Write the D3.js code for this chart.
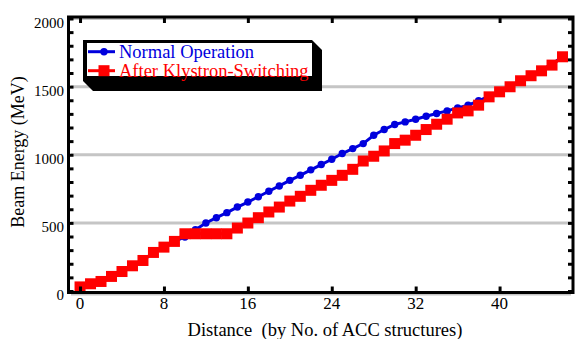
<!DOCTYPE html>
<html>
<head>
<meta charset="utf-8">
<script src="https://cdn.jsdelivr.net/npm/d3@7"></script>
<style>
  html, body { margin: 0; padding: 0; background: #fff; }
  svg { display: block; }
</style>
</head>
<body>
<svg id="chart" width="575" height="339"></svg>
<script>
// ---- data ----
const distance = d3.range(0, 47);
const normalOperation = [30, 53, 70, 107, 143, 185, 224, 283, 322, 364, 396, 450, 499, 538, 575, 616, 653, 692, 732, 771, 812, 849, 889, 928, 967, 1009, 1045, 1082, 1143, 1185, 1222, 1241, 1261, 1283, 1303, 1322, 1344, 1364, 1396, 1430, 1466, 1503, 1547, 1584, 1622, 1665, 1722];
const afterSwitching = [30, 53, 70, 107, 143, 185, 224, 283, 322, 364, 420, 420, 420, 420, 420, 462, 499, 538, 580, 616, 660, 695, 739, 776, 812, 849, 893, 954, 989, 1028, 1082, 1107, 1143, 1185, 1224, 1261, 1307, 1322, 1364, 1425, 1462, 1499, 1543, 1580, 1616, 1658, 1719];
const xTicks = [0, 8, 16, 24, 32, 40];
const yTicks = [0, 500, 1000, 1500, 2000];
const seriesNames = ["Normal Operation", "After Klystron-Switching"];
const seriesColors = ["#0000dd", "#ff0000"];

// ---- layout ----
const svg = d3.select("#chart");
const FONT = "'Liberation Serif'";
const pL = 68.5, pR = 573, pT = 17, pB = 292.5;
const x = d3.scaleLinear().domain([-1.1, 47]).range([pL, pR]);
const y = d3.scaleLinear().domain([0, 2000]).range([291, 18.5]);

// gridlines
svg.append("g").selectAll("line").data(yTicks).join("line")
  .attr("x1", pL + 3).attr("x2", pR - 2)
  .attr("y1", d => y(d) + (d === 0 ? 3 : 0)).attr("y2", d => y(d) + (d === 0 ? 3 : 0))
  .attr("stroke", "#8a8a8a").attr("stroke-width", 3).attr("stroke-dasharray", "1 1");

// series
const line = d3.line().x((d, i) => x(distance[i])).y(d => y(d));
const gB = svg.append("g");
gB.append("path").datum(normalOperation).attr("d", line)
  .attr("fill", "none").attr("stroke", seriesColors[0]).attr("stroke-width", 3);
gB.selectAll("circle").data(normalOperation).join("circle")
  .attr("cx", (d, i) => x(distance[i])).attr("cy", d => y(d)).attr("r", 3.7)
  .attr("fill", seriesColors[0]);

const gR = svg.append("g");
gR.append("path").datum(afterSwitching).attr("d", line)
  .attr("fill", "none").attr("stroke", seriesColors[1]).attr("stroke-width", 3);
gR.selectAll("rect").data(afterSwitching).join("rect")
  .attr("x", (d, i) => x(distance[i]) - 5.5).attr("y", d => y(d) - 5.5)
  .attr("width", 11).attr("height", 11).attr("fill", seriesColors[1]);

// frame
svg.append("rect").attr("x", pL).attr("y", pT).attr("width", pR - pL).attr("height", pB - pT)
  .attr("fill", "none").attr("stroke", "#000").attr("stroke-width", 3);

// axes (inward ticks)
const yMinor = d3.range(0, 2001, 100);
svg.append("g").attr("transform", `translate(${pL},0)`)
  .call(d3.axisRight(y).tickValues(yMinor).tickSize(5).tickFormat(""))
  .call(g => { g.select(".domain").remove(); g.selectAll("line").attr("stroke-width", 3); });
svg.append("g").attr("transform", `translate(${pR},0)`)
  .call(d3.axisLeft(y).tickValues(yMinor).tickSize(5).tickFormat(""))
  .call(g => { g.select(".domain").remove(); g.selectAll("line").attr("stroke-width", 3); });
svg.append("g").attr("transform", `translate(0,${pB})`)
  .call(d3.axisTop(x).tickValues(xTicks).tickSize(6).tickFormat(""))
  .call(g => { g.select(".domain").remove(); g.selectAll("line").attr("stroke-width", 3); });
svg.append("g").attr("transform", `translate(0,${pT})`)
  .call(d3.axisBottom(x).tickValues(xTicks).tickSize(6).tickFormat(""))
  .call(g => { g.select(".domain").remove(); g.selectAll("line").attr("stroke-width", 3); });

// tick labels
svg.append("g").selectAll("text").data(yTicks).join("text")
  .attr("x", 64).attr("y", d => y(d) + 9)
  .attr("text-anchor", "end").attr("font-size", 15).attr("font-family", FONT).attr("fill", "#000")
  .text(d => d);
svg.append("g").selectAll("text").data(xTicks).join("text")
  .attr("x", d => x(d)).attr("y", 309)
  .attr("text-anchor", "middle").attr("font-size", 17).attr("font-family", FONT).attr("fill", "#000")
  .text(d => d);

// axis titles
svg.append("text").attr("x", 325).attr("y", 335.5).attr("text-anchor", "middle")
  .attr("font-size", 18.5).attr("font-family", FONT).style("white-space", "pre")
  .text("Distance  (by No. of ACC structures)");
svg.append("text").attr("transform", "translate(24,152) rotate(-90)")
  .attr("text-anchor", "middle").attr("font-size", 18).attr("font-family", FONT)
  .text("Beam Energy (MeV)");

// legend
const lg = svg.append("g");
lg.append("path").attr("d", "M83,40 L312,40 L322,50 L322,91 L93,91 L83,81 Z").attr("fill", "#000");
lg.append("rect").attr("x", 87).attr("y", 43).attr("width", 225).attr("height", 33).attr("fill", "#fff");
const rows = [51.7, 70.7];
seriesNames.forEach((name, i) => {
  lg.append("line").attr("x1", 88).attr("x2", 115).attr("y1", rows[i]).attr("y2", rows[i])
    .attr("stroke", seriesColors[i]).attr("stroke-width", 3);
  if (i === 0) {
    lg.append("circle").attr("cx", 104).attr("cy", rows[i]).attr("r", 3.7).attr("fill", seriesColors[i]);
  } else {
    lg.append("rect").attr("x", 98.5).attr("y", rows[i] - 5.5).attr("width", 11).attr("height", 11).attr("fill", seriesColors[i]);
  }
  lg.append("text").attr("x", 119).attr("y", rows[i] + 6).attr("font-size", 18.5).attr("font-family", FONT)
    .attr("fill", seriesColors[i]).text(name);
});
</script>
</body>
</html>
